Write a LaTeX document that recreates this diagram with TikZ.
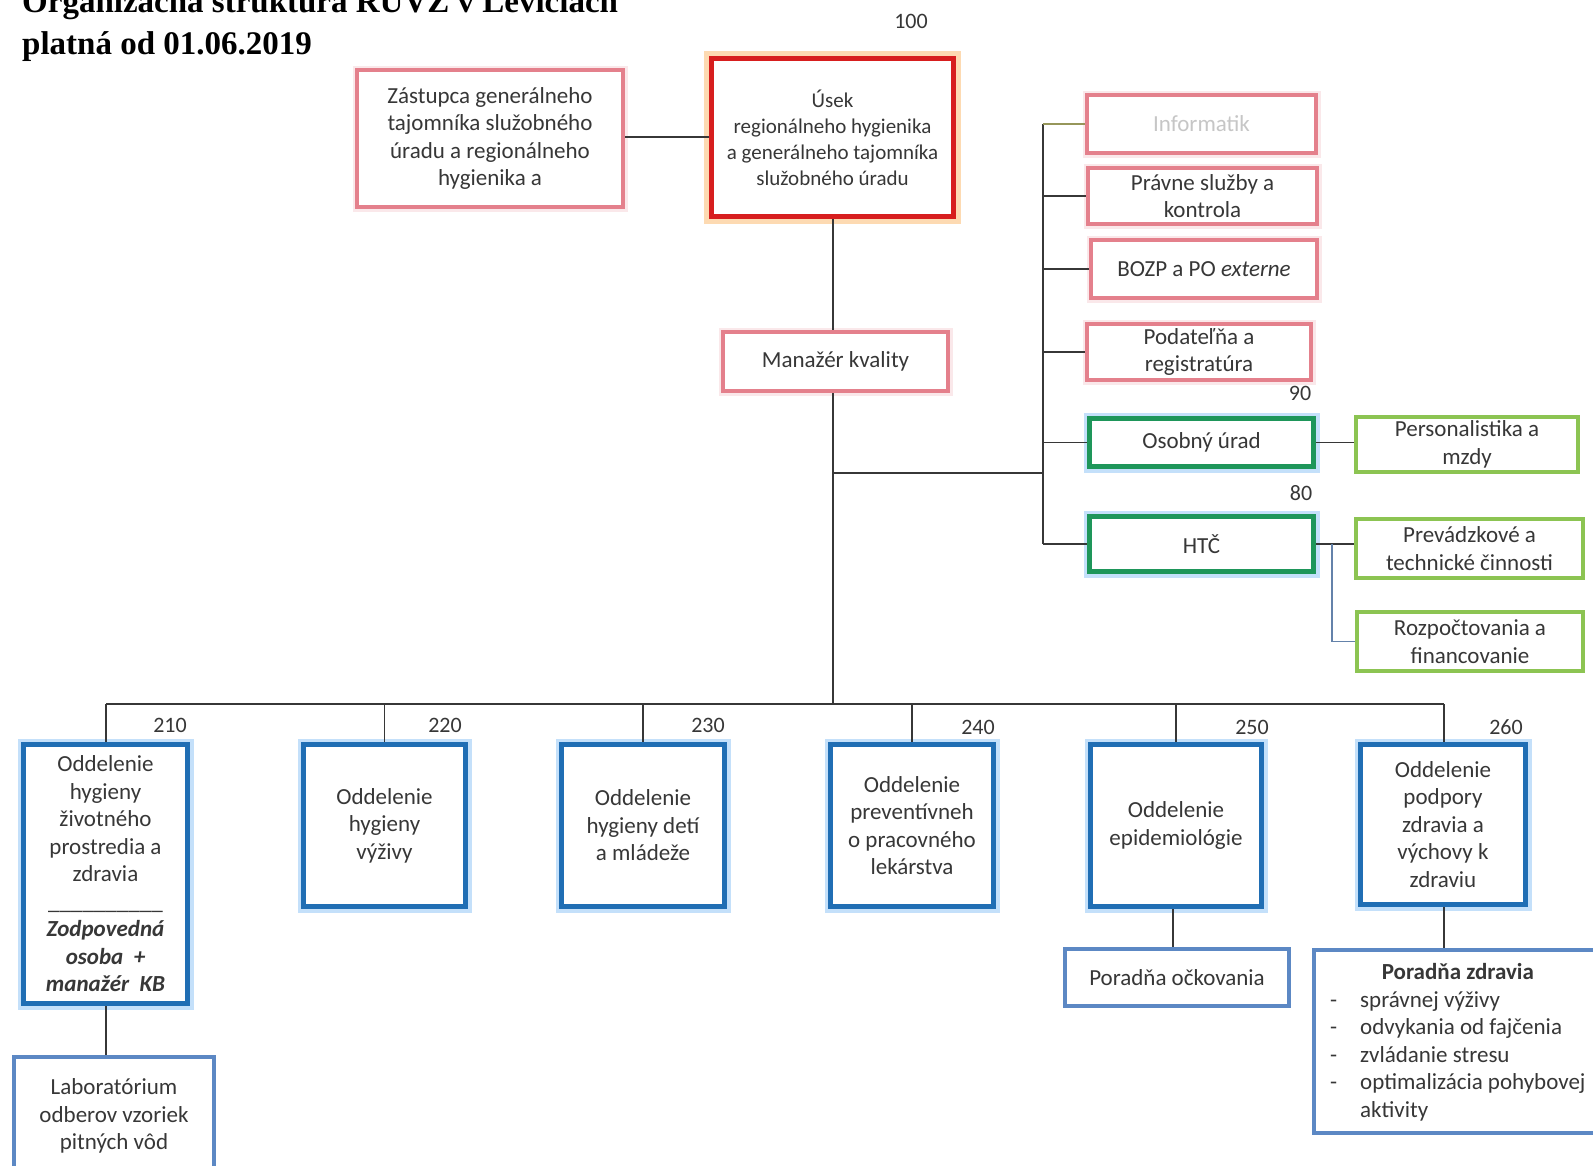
\documentclass[tikz,border=0pt]{standalone}
\usepackage{fontspec}
\setmainfont{Carlito}
\newfontfamily\titlefont{Liberation Serif}
\definecolor{txt}{RGB}{55,55,55}
\definecolor{pinkc}{RGB}{228,128,140}
\definecolor{redc}{RGB}{215,30,30}
\definecolor{orangeglow}{RGB}{253,218,178}
\definecolor{dgreen}{RGB}{30,150,90}
\definecolor{lgreen}{RGB}{140,196,82}
\definecolor{bluec}{RGB}{32,110,180}
\definecolor{blueglow}{RGB}{196,224,250}
\definecolor{subblue}{RGB}{92,136,196}
\definecolor{linec}{RGB}{55,55,55}
\begin{document}
\begin{tikzpicture}[x=1pt,y=-1pt,
  box/.style={draw, fill=white, align=center, inner sep=2pt, text=txt,
    font=\fontsize{23}{27.5}\selectfont},
  pinkbox/.style={box, draw=pinkc, line width=4pt,
    preaction={draw=pinkc!18, line width=9pt}},
  redbox/.style={box, draw=redc, line width=5pt,
    preaction={draw=orangeglow, line width=15pt}},
  greenbox/.style={box, draw=dgreen, line width=5pt,
    preaction={draw=blueglow, line width=12pt}},
  lgreenbox/.style={box, draw=lgreen, line width=4pt},
  deptbox/.style={box, draw=bluec, line width=5pt,
    preaction={draw=blueglow, line width=12pt}},
  subbox/.style={box, draw=subblue, line width=4pt},
  num/.style={font=\fontsize{22}{26}\selectfont, text=txt, inner sep=0},
  conn/.style={draw=linec, line width=1.5pt},
  titl/.style={font=\titlefont\bfseries\fontsize{33}{40}\selectfont, text=black, inner sep=0, anchor=base west}
]
\clip (0,0) rectangle (1593,1165);
\fill[white] (0,0) rectangle (1593,1165);

% title
\node[titl] (title1) at (22,12) {Organizačná štruktúra RÚVZ v Leviciach};
\node[titl] (title2) at (22,54) {platná od 01.06.2019};

% top boxes
\node[pinkbox, minimum width=266pt, minimum height=137pt] (zast) at (490,138.5)
  {Zástupca generálneho\\tajomníka služobného\\úradu a regionálneho\\hygienika a};
\node[redbox, minimum width=242pt, minimum height=158pt,
  font=\fontsize{21}{26}\selectfont] (usek) at (832.5,137.5)
  {Úsek\\regionálneho hygienika\\a generálneho tajomníka\\služobného úradu};
\node[num] (n100) at (911,21) {100};
\node[pinkbox, minimum width=225pt, minimum height=59pt] (mk) at (835.5,361.5) {Manažér kvality};

% right column
\node[pinkbox, minimum width=229pt, minimum height=58pt, text=gray!45] (inf) at (1201.5,124) {Informatik};
\node[pinkbox, minimum width=229pt, minimum height=56pt] (prav) at (1202.5,196) {Právne služby a\\kontrola};
\node[pinkbox, minimum width=226pt, minimum height=58pt] (bozp) at (1204,269) {BOZP a PO \textit{externe}};
\node[pinkbox, minimum width=224pt, minimum height=56pt] (pod) at (1199,352) {Podateľňa a\\registratúra};
\node[num] (n90) at (1300,393) {90};
\node[greenbox, minimum width=224pt, minimum height=48pt] (osob) at (1201.5,442.5) {Osobný úrad};
\node[lgreenbox, minimum width=222pt, minimum height=55pt] (pers) at (1467,444.5) {Personalistika a\\mzdy};
\node[num] (n80) at (1301,493) {80};
\node[greenbox, minimum width=224pt, minimum height=55pt] (htc) at (1201.5,544) {HTČ};
\node[lgreenbox, minimum width=227pt, minimum height=59pt] (prev) at (1469.5,548.5) {Prevádzkové a\\technické činnosti};
\node[lgreenbox, minimum width=226pt, minimum height=59pt] (rozp) at (1470,641.5) {Rozpočtovania a\\financovanie};

% departments
\node[deptbox, minimum width=164pt, minimum height=259pt] (d210) at (105.5,874)
  {Oddelenie\\hygieny\\životného\\prostredia a\\zdravia\\\_\_\_\_\_\_\_\_\_\_\\\textbf{\textit{Zodpovedná}}\\\textbf{\textit{osoba \ +}}\\\textbf{\textit{manažér \ KB}}};
\node[num] (n210) at (170,725) {210};
\node[deptbox, minimum width=162pt, minimum height=162pt] (d220) at (384.5,825.5) {Oddelenie\\hygieny\\výživy};
\node[num] (n220) at (445,725) {220};
\node[deptbox, minimum width=163pt, minimum height=162pt] (d230) at (643,825.5) {Oddelenie\\hygieny detí\\a mládeže};
\node[num] (n230) at (708,725) {230};
\node[deptbox, minimum width=163pt, minimum height=162pt] (d240) at (912,825.5) {Oddelenie\\preventívneh\\o pracovného\\lekárstva};
\node[num] (n240) at (978,727) {240};
\node[deptbox, minimum width=171pt, minimum height=162pt] (d250) at (1176,825.5) {Oddelenie\\epidemiológie};
\node[num] (n250) at (1252,727) {250};
\node[deptbox, minimum width=165pt, minimum height=160pt] (d260) at (1443,824.5) {Oddelenie\\podpory\\zdravia a\\výchovy k\\zdraviu};
\node[num] (n260) at (1506,727) {260};

% sub boxes
\node[subbox, minimum width=200pt, minimum height=118pt] (lab) at (114,1116) {Laboratórium\\odberov vzoriek\\pitných vôd};
\node[subbox, minimum width=224pt, minimum height=57pt] (pocko) at (1177,977.5) {Poradňa očkovania};
\node[subbox, minimum width=289pt, minimum height=183pt] (pzdr) at (1458.5,1041.5) {};
\node[anchor=west, inner sep=0, text=txt, font=\fontsize{23}{27.5}\selectfont] (pzdrtxt) at (1330,1043)
  {\begin{tabular}{@{}p{30pt}@{}l@{}}
   \multicolumn{2}{@{}c@{}}{\bfseries Poradňa zdravia}\\
   -&správnej výživy\\
   -&odvykania od fajčenia\\
   -&zvládanie stresu\\
   -&optimalizácia pohybovej\\
   &aktivity
   \end{tabular}};

% connectors
\coordinate (mmid) at (833,473);
\coordinate (bus) at (833,704);
\coordinate (busL) at (106,704);
\coordinate (busR) at (1444,704);
\coordinate (rtop) at (1043,124);
\coordinate (rbot) at (1043,544);
\coordinate (rmid) at (1043,473);
\coordinate (hj) at (1332,544);

\draw[conn] (zast.east |- 0,137) -- (usek.west |- 0,137);
\draw[conn] (usek.south -| bus) -- (mk.north -| bus);
\draw[conn] (mk.south -| bus) -- (bus);
\draw[conn] (mmid) -- (rmid);
\draw[conn] (rtop) -- (rbot);
\draw[conn, draw={rgb,255:red,150;green,150;blue,90}] (rtop) -- (inf.west);
\draw[conn] (prav.west -| rtop) -- (prav.west);
\draw[conn] (bozp.west -| rtop) -- (bozp.west);
\draw[conn] (pod.west -| rtop) -- (pod.west);
\draw[conn] (osob.west -| rtop) -- (osob.west);
\draw[conn] (rbot) -- (htc.west);
\draw[conn] (osob.east) -- (osob.east -| pers.west);
\draw[conn] (htc.east) -- (htc.east -| prev.west);
\draw[conn, draw={rgb,255:red,100;green,130;blue,170}] (hj) |- (rozp.west);
\draw[conn] (busL) -- (busR);
\draw[conn] (busL) -- (d210.north -| busL);
\draw[conn] (d220.north |- bus) -- (d220.north);
\draw[conn] (d230.north |- bus) -- (d230.north);
\draw[conn] (d240.north |- bus) -- (d240.north);
\draw[conn] (d250.north |- bus) -- (d250.north);
\draw[conn] (busR) -- (d260.north -| busR);
\draw[conn] (d210.south -| busL) -- (lab.north -| busL);
\draw[conn] (d250.south -| 1173,0) -- (pocko.north -| 1173,0);
\draw[conn] (d260.south -| busR) -- (pzdr.north -| busR);
\end{tikzpicture}
\end{document}
